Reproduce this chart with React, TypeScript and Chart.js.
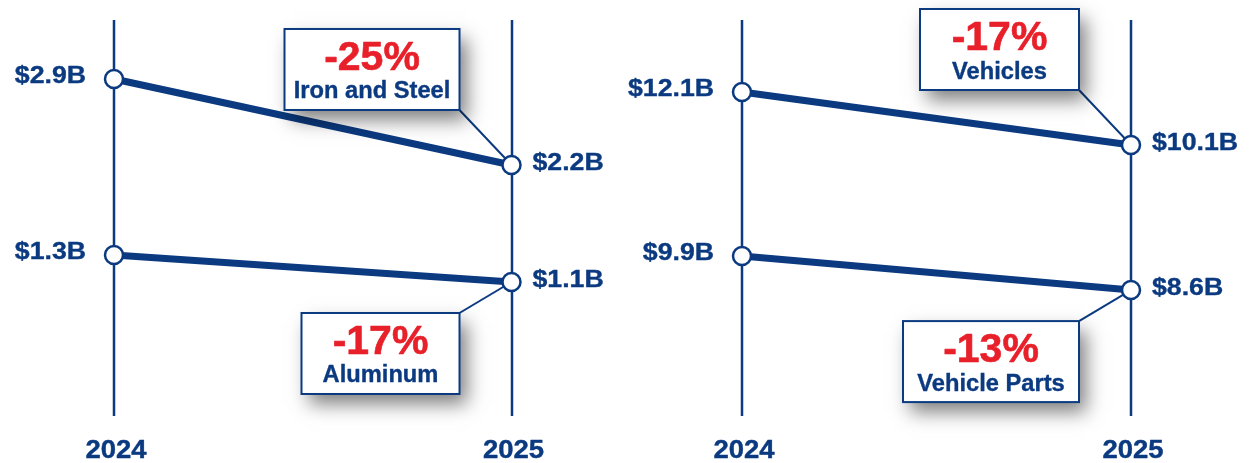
import React, { useEffect, useRef } from "react";
import { Chart, registerables } from "chart.js";

Chart.register(...registerables);

// ---------- data ----------
const yearLabels = ["2024", "2025"];
const yearValues = [2024, 2025];

const leftNames = ["Iron and Steel", "Aluminum"];
const ironSteel = [2.9, 2.2];
const aluminum = [1.3, 1.1];
const leftChanges = ["-25%", "-17%"];

const rightNames = ["Vehicles", "Vehicle Parts"];
const vehicles = [12.1, 10.1];
const vehicleParts = [9.9, 8.6];
const rightChanges = ["-17%", "-13%"];

// ---------- style ----------
const NAVY = "#0b3a80";
const RED = "#e8202a";
const FONT = '"Liberation Sans", Arial, Helvetica, sans-serif';
const H = 463;

type Series = {
  name: string;
  values: number[];
  change: string;
  yMin: number;
  yMax: number;
  side: "above" | "below";
  boxW: number;
};

type Panel = {
  left: number;
  width: number;
  padLeft: number;
  padRight: number;
  series: Series[];
};

const panels: Panel[] = [
  {
    left: 0,
    width: 628,
    padLeft: 114,
    padRight: 116.5,
    series: [
      { name: leftNames[0], values: ironSteel, change: leftChanges[0], yMin: -0.226, yMax: 3.543, side: "above", boxW: 175 },
      { name: leftNames[1], values: aluminum, change: leftChanges[1], yMin: -0.241, yMax: 3.189, side: "below", boxW: 158 },
    ],
  },
  {
    left: 628,
    width: 629,
    padLeft: 114,
    padRight: 126,
    series: [
      { name: rightNames[0], values: vehicles, change: rightChanges[0], yMin: -1.9, yMax: 15.572, side: "above", boxW: 159 },
      { name: rightNames[1], values: vehicleParts, change: rightChanges[1], yMin: 1.99, yMax: 19.69, side: "below", boxW: 176 },
    ],
  },
];

const fmt = (v: number) => `$${v.toFixed(1)}B`;

function boxFor(s: Series, px: number, py: number) {
  const right = px - 52;
  const left = right - s.boxW;
  const h = 81;
  const top = s.side === "above" ? py - 55 - h : py + 31;
  return { left, right, top, bottom: top + h, h };
}

function stretchText(
  ctx: CanvasRenderingContext2D,
  text: string,
  x: number,
  y: number,
  align: CanvasTextAlign,
  sx: number,
  heavy: number
) {
  ctx.save();
  ctx.translate(x, y);
  ctx.scale(sx, 1);
  ctx.textAlign = align;
  ctx.fillText(text, 0, 0);
  if (heavy > 0) {
    ctx.strokeStyle = ctx.fillStyle as string;
    ctx.lineWidth = heavy;
    ctx.lineJoin = "round";
    ctx.strokeText(text, 0, 0);
  }
  ctx.restore();
}

function makePlugin(panel: Panel) {
  return {
    id: "slopeDecor",
    beforeDatasetsDraw(chart: any) {
      const ctx = chart.ctx as CanvasRenderingContext2D;
      const xs = chart.scales.x;
      ctx.save();
      ctx.strokeStyle = NAVY;
      ctx.lineWidth = 2.5;
      yearValues.forEach((yv) => {
        const x = Math.round(xs.getPixelForValue(yv));
        ctx.beginPath();
        ctx.moveTo(x, 20);
        ctx.lineTo(x, 416);
        ctx.stroke();
      });
      ctx.lineWidth = 2;
      panel.series.forEach((s, i) => {
        const meta = chart.getDatasetMeta(i);
        const p = meta.data[1];
        const b = boxFor(s, p.x, p.y);
        const cy = s.side === "above" ? b.bottom : b.top;
        ctx.beginPath();
        ctx.moveTo(b.right, cy);
        ctx.lineTo(p.x, p.y);
        ctx.stroke();
      });
      ctx.restore();
    },
    afterDatasetsDraw(chart: any) {
      const ctx = chart.ctx as CanvasRenderingContext2D;
      const xs = chart.scales.x;
      ctx.save();
      // value labels
      ctx.fillStyle = NAVY;
      ctx.font = `bold 23px ${FONT}`;
      ctx.textBaseline = "middle";
      panel.series.forEach((s, i) => {
        const meta = chart.getDatasetMeta(i);
        const p0 = meta.data[0];
        const p1 = meta.data[1];
        stretchText(ctx, fmt(s.values[0]), p0.x - 28, p0.y - 2, "right", 1.16, 0.35);
        stretchText(ctx, fmt(s.values[1]), p1.x + 21, p1.y - 1, "left", 1.16, 0.35);
      });
      // year labels
      ctx.font = `bold 25px ${FONT}`;
      ctx.textBaseline = "alphabetic";
      yearValues.forEach((yv, i) => {
        stretchText(ctx, yearLabels[i], xs.getPixelForValue(yv) + 2, 458, "center", 1.1, 0.4);
      });
      // callout boxes
      panel.series.forEach((s, i) => {
        const meta = chart.getDatasetMeta(i);
        const p = meta.data[1];
        const b = boxFor(s, p.x, p.y);
        ctx.save();
        ctx.shadowColor = "rgba(0,0,0,0.5)";
        ctx.shadowBlur = 18;
        ctx.shadowOffsetX = 7;
        ctx.shadowOffsetY = 10;
        ctx.fillStyle = "#ffffff";
        ctx.fillRect(b.left, b.top, s.boxW, b.h);
        ctx.restore();
        ctx.strokeStyle = NAVY;
        ctx.lineWidth = 2;
        ctx.strokeRect(b.left, b.top, s.boxW, b.h);
        const cx = (b.left + b.right) / 2;
        ctx.textBaseline = "alphabetic";
        ctx.fillStyle = RED;
        ctx.font = `bold 41px ${FONT}`;
        stretchText(ctx, s.change, cx, b.top + 41, "center", 1, 0.6);
        ctx.fillStyle = NAVY;
        ctx.font = `bold 23px ${FONT}`;
        stretchText(ctx, s.name, cx, b.top + 69.5, "center", 1.03, 0.35);
      });
      ctx.restore();
    },
  };
}

function SlopePanel({ panel }: { panel: Panel }) {
  const ref = useRef<HTMLCanvasElement | null>(null);
  useEffect(() => {
    if (!ref.current) return;
    const scales: any = {
      x: { type: "linear", min: yearValues[0], max: yearValues[1], display: false },
    };
    panel.series.forEach((s, i) => {
      scales["y" + i] = { type: "linear", min: s.yMin, max: s.yMax, display: false };
    });
    const chart = new Chart(ref.current, {
      type: "line",
      data: {
        datasets: panel.series.map((s, i) => ({
          label: s.name,
          data: s.values.map((v, j) => ({ x: yearValues[j], y: v })),
          yAxisID: "y" + i,
          borderColor: NAVY,
          borderWidth: 7,
          pointRadius: 9,
          pointBorderWidth: 2.5,
          pointBackgroundColor: "#ffffff",
          pointBorderColor: NAVY,
          clip: false,
          fill: false,
          tension: 0,
        })),
      },
      options: {
        responsive: false,
        animation: false,
        events: [],
        layout: {
          autoPadding: false,
          padding: { left: panel.padLeft, right: panel.padRight, top: 0, bottom: 0 },
        },
        scales,
        plugins: { legend: { display: false }, tooltip: { enabled: false } },
      } as any,
      plugins: [makePlugin(panel)],
    });
    return () => chart.destroy();
  }, [panel]);
  return (
    <canvas
      ref={ref}
      width={panel.width}
      height={H}
      style={{ position: "absolute", left: panel.left, top: 0, width: panel.width, height: H }}
    />
  );
}

export default function App() {
  return (
    <div style={{ position: "fixed", left: 0, top: 0, width: 1257, height: H, background: "#ffffff", overflow: "hidden" }}>
      {panels.map((p, i) => (
        <SlopePanel key={i} panel={p} />
      ))}
    </div>
  );
}
